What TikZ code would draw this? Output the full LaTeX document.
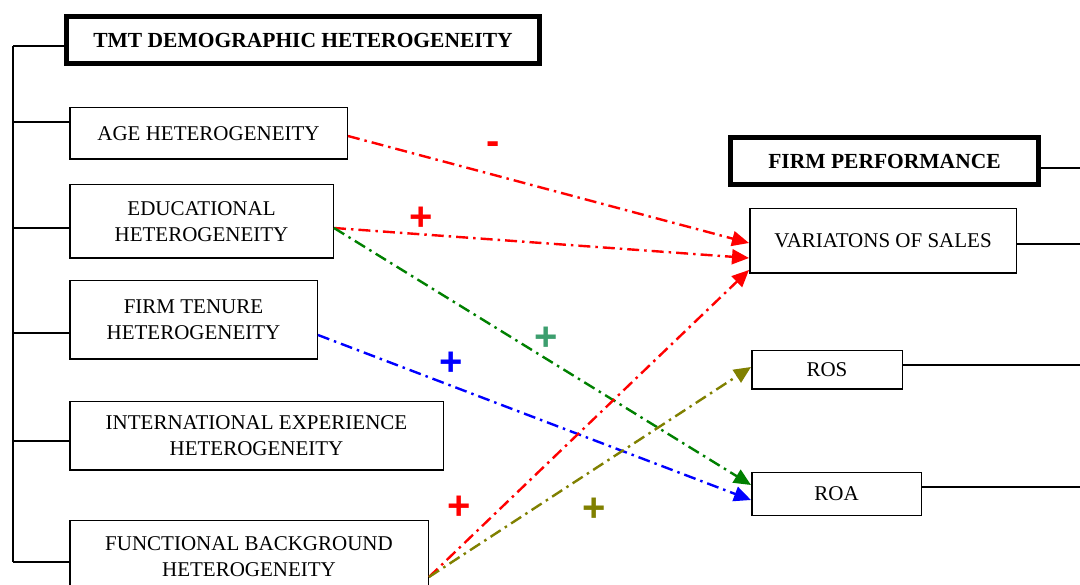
\documentclass[tikz,border=0pt]{standalone}
\usepackage{fontspec}
\setmainfont{Liberation Serif}
\newfontfamily\signfont{Liberation Sans}
\usetikzlibrary{arrows.meta,calc}
\definecolor{plusgreen}{RGB}{60,158,110}
\definecolor{olivec}{RGB}{128,128,0}
\definecolor{darkgreen}{RGB}{0,128,0}
\tikzset{
  box/.style={draw,line width=1.5pt,inner sep=0pt,align=center,font=\fontsize{21}{26}\selectfont},
  headbox/.style={draw,line width=5pt,inner sep=0pt,align=center,font=\fontsize{21.5}{26}\selectfont\bfseries},
  link/.style={line width=1.5pt},
  effect/.style={line width=2.4pt,dash pattern=on 12pt off 5pt on 2.5pt off 5pt,-{Triangle[length=17pt,width=15pt]}},
  sign/.style={font=\signfont\bfseries\fontsize{40}{40}\selectfont,inner sep=0pt}
}
\begin{document}
\begin{tikzpicture}[x=1pt,y=-1pt]
\useasboundingbox (0,0) rectangle (1080,585);
% left boxes
\node[headbox,minimum width=473pt,minimum height=47pt] (tmt) at (303,40) {TMT DEMOGRAPHIC HETEROGENEITY};
\node[box,minimum width=277.5pt,minimum height=51.5pt] (age) at (208.5,133.5) {AGE HETEROGENEITY};
\node[box,minimum width=263.5pt,minimum height=73.5pt] (edu) at (201.5,221.5) {EDUCATIONAL\\HETEROGENEITY};
\node[box,minimum width=247.5pt,minimum height=78.5pt] (ft) at (193.5,320) {FIRM TENURE\\HETEROGENEITY};
\node[box,minimum width=373.5pt,minimum height=68.5pt] (intl) at (256.5,436) {INTERNATIONAL EXPERIENCE\\HETEROGENEITY};
\node[box,minimum width=358.5pt,minimum height=73pt] (func) at (249,557) {FUNCTIONAL BACKGROUND\\HETEROGENEITY};
% right boxes
\node[headbox,minimum width=308pt,minimum height=47pt] (fp) at (884.5,161) {FIRM PERFORMANCE};
\node[box,minimum width=266.5pt,minimum height=64.5pt] (var) at (883,241) {VARIATONS OF SALES};
\node[box,minimum width=150.5pt,minimum height=38.5pt] (ros) at (827,370) {ROS};
\node[box,minimum width=169.5pt,minimum height=42.5pt] (roa) at (836.5,494) {ROA};
% left tree
\coordinate (t0) at (13,46);
\coordinate (t1) at (13,122);
\coordinate (t2) at (13,228);
\coordinate (t3) at (13,333);
\coordinate (t4) at (13,441);
\coordinate (t5) at (13,562);
\draw[link] (t0) -- (t5);
\draw[link] (t0) -- (t0 -| tmt.west);
\draw[link] (t1) -- (t1 -| age.west);
\draw[link] (t2) -- (t2 -| edu.west);
\draw[link] (t3) -- (t3 -| ft.west);
\draw[link] (t4) -- (t4 -| intl.west);
\draw[link] (t5) -- (t5 -| func.west);
% right tree
\coordinate (r0) at (1080,168);
\coordinate (r1) at (1080,244);
\coordinate (r2) at (1080,365);
\coordinate (r3) at (1080,487);
\draw[link] (fp.east |- r0) -- (r0);
\draw[link] (var.east |- r1) -- (r1);
\draw[link] (ros.east |- r2) -- (r2);
\draw[link] (roa.east |- r3) -- (r3);
% effects
\draw[effect,red] (age.east |- 0,136) -- (var.west |- 0,243);
\draw[effect,red] (edu.east |- 0,228) -- (var.west |- 0,258);
\draw[effect,darkgreen] (edu.east |- 0,228) -- (roa.west |- 0,485);
\draw[effect,blue] (ft.east |- 0,335) -- (roa.west |- 0,500);
\draw[effect,red] (func.east |- 0,577) -- (var.west |- 0,270);
\draw[effect,olivec] (func.east |- 0,577) -- (ros.west |- 0,367);
% signs
\node[sign,red] (s1) at (493,148) {-};
\node[sign,red] (s2) at (421,219) {+};
\node[sign,plusgreen] (s3) at (546,339) {+};
\node[sign,blue] (s4) at (451,364) {+};
\node[sign,red] (s5) at (459,508) {+};
\node[sign,olivec] (s6) at (594,510) {+};
\end{tikzpicture}
\end{document}
